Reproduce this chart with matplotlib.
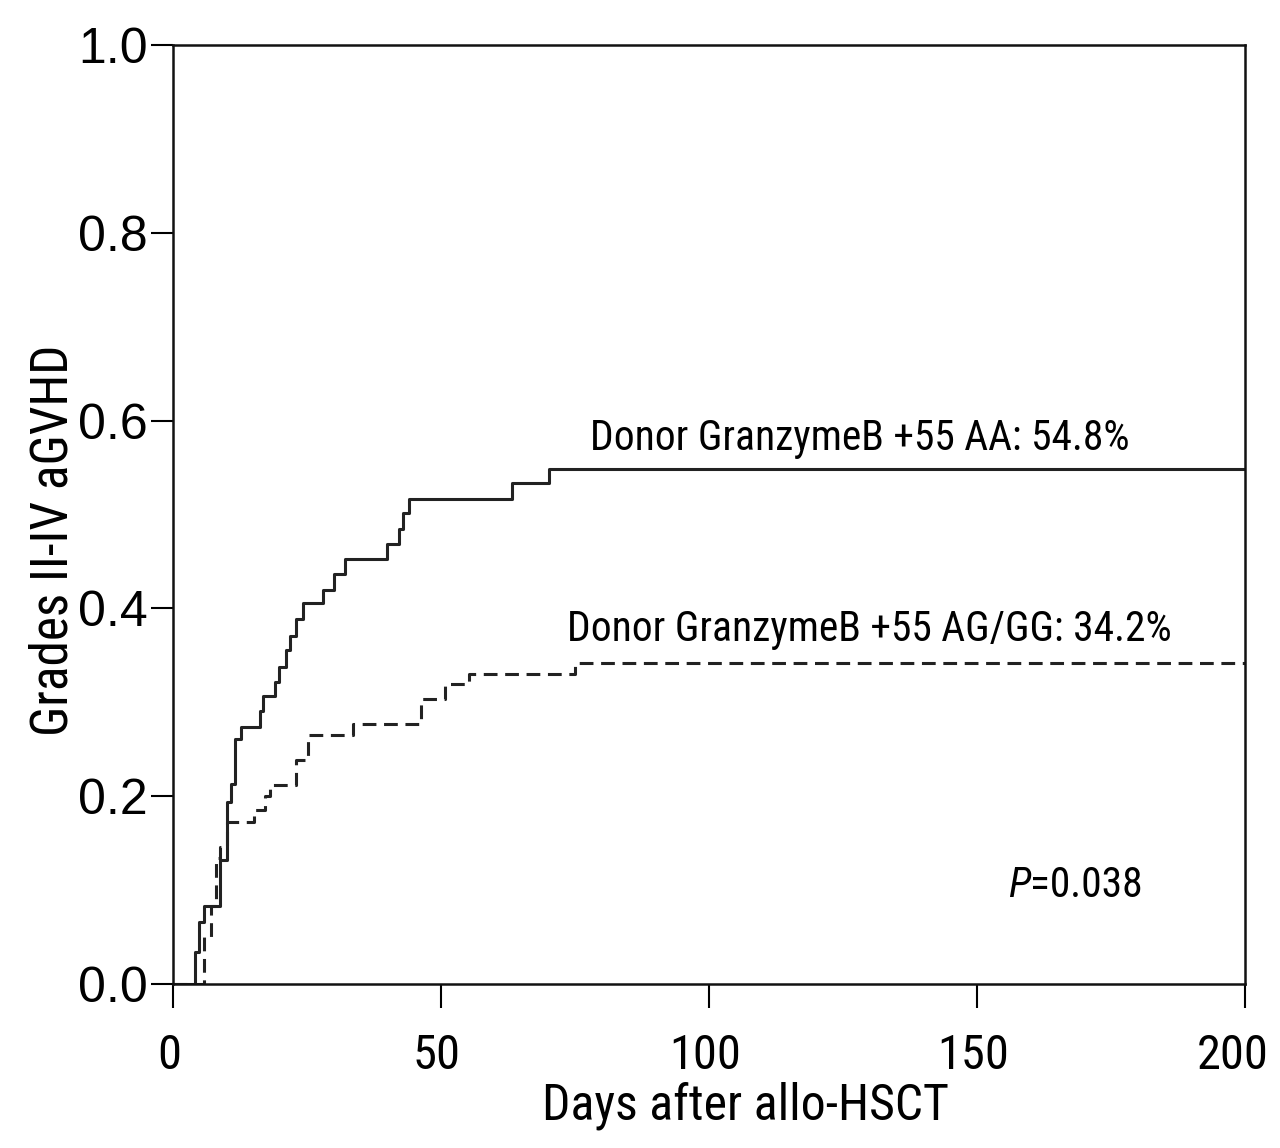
import matplotlib
matplotlib.use("Agg")
import matplotlib.pyplot as plt
import matplotlib.transforms as mtransforms
from matplotlib import font_manager

# cumulative incidence, donor GranzymeB +55 AA (solid)
aa_days = [0, 4.2, 4.9, 5.8, 8.8, 10.1, 10.9, 11.6, 12.8, 16.2, 16.8, 19.0, 19.8,
           21.1, 21.9, 22.9, 24.2, 28.0, 30.1, 32.2, 40.0, 42.1, 43.0, 44.1,
           63.2, 70.1, 200]
aa_vals = [0, 0.034, 0.066, 0.083, 0.132, 0.194, 0.213, 0.261, 0.274, 0.291, 0.307,
           0.322, 0.338, 0.356, 0.371, 0.389, 0.406, 0.420, 0.437, 0.453, 0.469,
           0.485, 0.502, 0.517, 0.534, 0.548, 0.548]

# donor GranzymeB +55 AG/GG (dashed)
gg_days = [0, 5.8, 7.2, 8.0, 8.8, 10.1, 15.1, 17.1, 18.1, 22.9, 25.2, 33.6,
           46.3, 50.8, 55.2, 75.0, 200]
gg_vals = [0, 0.050, 0.083, 0.134, 0.146, 0.173, 0.185, 0.200, 0.212, 0.238,
           0.265, 0.277, 0.303, 0.319, 0.330, 0.342, 0.342]

xticks = [0, 50, 100, 150, 200]
yticks = [0.0, 0.2, 0.4, 0.6, 0.8, 1.0]


# look for a narrow sans font; fall back to plain sans
def pick_narrow():
    names = {f.name for f in font_manager.fontManager.ttflist}
    for n in ['Liberation Sans Narrow', 'Arial Narrow', 'Roboto Condensed',
              'Open Sans Condensed', 'Noto Sans Condensed']:
        if n in names:
            return n, 'normal'
    for f in font_manager.fontManager.ttflist:
        if f.name in ('DejaVu Sans', 'Noto Sans', 'Open Sans') and \
                str(f.stretch) in ('condensed', 'semi-condensed', '75', '87.5'):
            return f.name, f.stretch
    return 'Liberation Sans', 'normal'


narrow, stretch = pick_narrow()

fig = plt.figure(figsize=(12.8, 11.48), dpi=100)
ax = fig.add_axes([0.135, 0.1429, 0.838, 0.8179])

# scale factor so the labels get the same width as in the reference
probe = fig.text(0, 0, 'Donor GranzymeB +55 AA: 54.8%', family=narrow,
                 fontstretch=stretch, fontsize=30)
rend = fig.canvas.get_renderer()
k = 540.0 / probe.get_window_extent(rend).width
probe.remove()
k = min(k, 1.0)

ax.step(aa_days, aa_vals, where='post', color='#222222', linewidth=2.2)
ax.step(gg_days, gg_vals, where='post', color='#222222', linewidth=2.2,
        linestyle=(0, (4.5, 2.5)))

ax.set_xlim(0, 200)
ax.set_ylim(0, 1.0)
ax.set_xticks(xticks)
ax.set_yticks(yticks)
ax.set_xticklabels([str(t) for t in xticks], family=narrow, fontstretch=stretch,
                   fontsize=35 * k)
ax.set_yticklabels(['%.1f' % t for t in yticks], family='Liberation Sans', fontsize=36)
ax.tick_params(axis='x', direction='out', length=17, width=1.5, pad=18)
ax.tick_params(axis='y', direction='out', length=16, width=1.5, pad=2)
for s in ax.spines.values():
    s.set_linewidth(1.8)
    s.set_color('#111111')

# nudge x tick labels a little left, the last one more so it stays inside
for i, lab in enumerate(ax.get_xticklabels()):
    dx = -13 if i == len(xticks) - 1 else -4
    lab.set_transform(lab.get_transform() +
                      mtransforms.ScaledTranslation(dx / 100, 0, fig.dpi_scale_trans))

ax.set_xlabel('Days after allo-HSCT', family=narrow, fontstretch=stretch,
              fontsize=36 * k, labelpad=2)
ax.xaxis.label.set_x(0.534)
ax.set_ylabel('Grades II-IV aGVHD', family=narrow, fontstretch=stretch,
              fontsize=37 * k, labelpad=0)
ax.yaxis.label.set_y(0.473)

ax.text(77.7, 0.581, 'Donor GranzymeB +55 AA: 54.8%', family=narrow,
        fontstretch=stretch, fontsize=30 * k, va='center', ha='left')
ax.text(73.5, 0.378, 'Donor GranzymeB +55 AG/GG: 34.2%', family=narrow,
        fontstretch=stretch, fontsize=30 * k, va='center', ha='left')
ax.text(159.9, 0.105, 'P', family=narrow, fontstretch=stretch, style='italic',
        fontsize=30 * k, va='center', ha='right')
ax.text(159.9, 0.105, '=0.038', family=narrow, fontstretch=stretch,
        fontsize=30 * k, va='center', ha='left')

fig.savefig('out.png', dpi=100)
